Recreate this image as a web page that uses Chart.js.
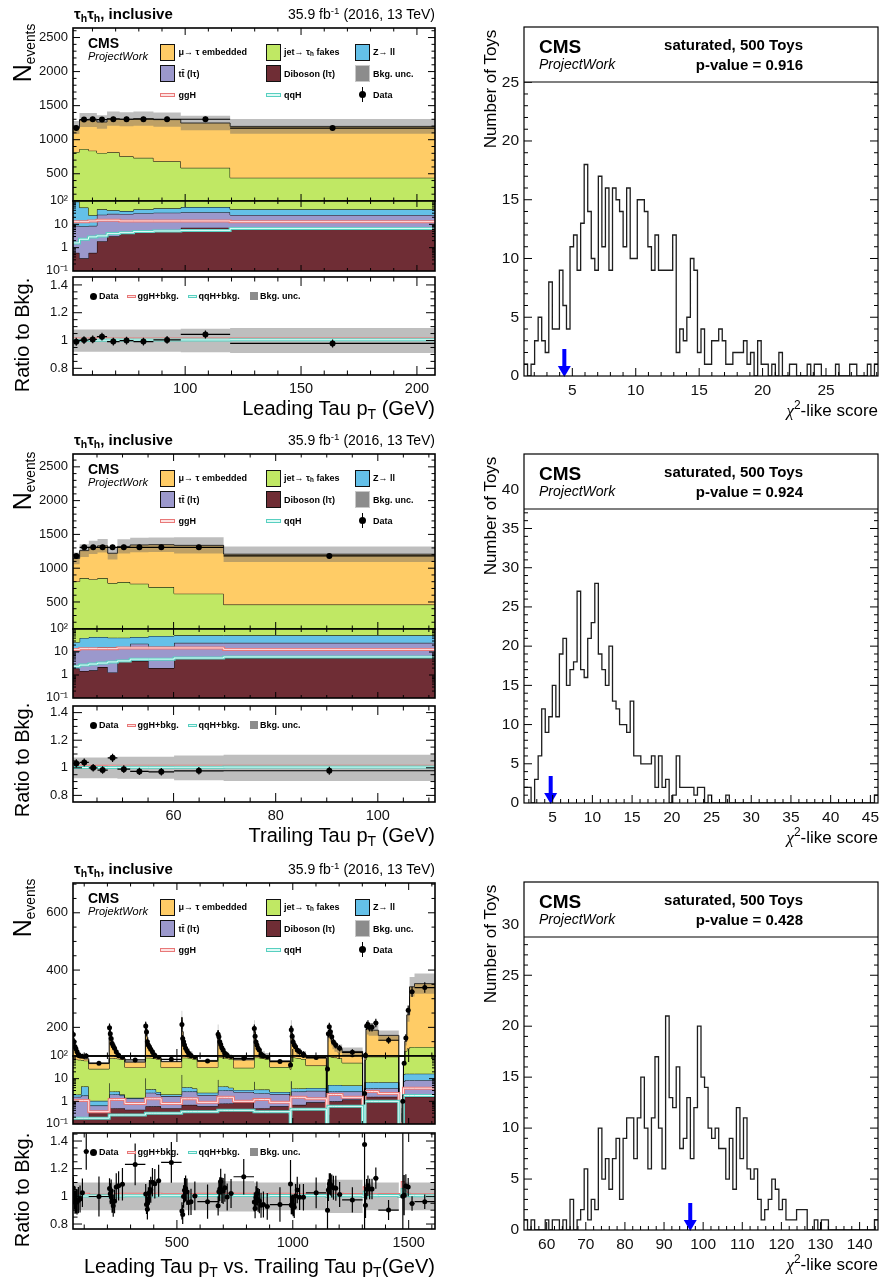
<!DOCTYPE html>
<html>
<head>
<meta charset="utf-8">
<title>tau_h tau_h control distributions and saturated goodness of fit</title>
<script src="https://cdn.jsdelivr.net/npm/chart.js@4.4.1/dist/chart.umd.min.js"></script>
<style>
  html, body { margin: 0; padding: 0; background: #fff; }
  body { position: relative; width: 882px; height: 1282px; overflow: hidden; font-family: "Liberation Sans", Arial, sans-serif; }
  canvas { position: absolute; }
  .t { position: absolute; white-space: nowrap; line-height: 1; color: #000; z-index: 5; }
  .t sub { font-size: 70%; vertical-align: -0.3em; line-height: 0; }
  .t sup { font-size: 70%; vertical-align: 0.55em; line-height: 0; }
  .sym { position: absolute; z-index: 5; box-sizing: border-box; }
</style>
</head>
<body>
<script>
// leading tau pT
const leadEdges = [51.6, 54.4, 58.3, 61.9, 66.3, 71.7, 77.7, 86.3, 98.1, 119.4, 207.8];
const leadData  = [1170, 1295, 1300, 1295, 1300, 1300, 1300, 1300, 1300, 1170];
const leadEmb   = [360, 426, 450, 454, 495, 543, 577, 611, 658, 754];
const leadFakes = [726, 812, 815, 762, 775, 720, 689, 635, 532, 397];
const leadZll   = [85, 44, 16, 18, 12, 9, 14, 17, 22, 19];
const leadTT    = [8, 8, 8, 24, 25, 24, 25, 26, 26, 19];
const leadVV    = [0.6, 0.35, 0.6, 1.9, 3.1, 4.0, 5.2, 5.6, 7.2, 6.2];
const leadGGH   = [13, 13, 14, 15, 15, 14, 14, 14, 14, 13];
const leadQQH   = [1.6, 2.3, 2.9, 3.2, 4.0, 4.4, 4.9, 5.2, 5.5, 6.7];
const leadUnc   = [0.08, 0.08, 0.08, 0.08, 0.08, 0.08, 0.08, 0.08, 0.085, 0.09];

// trailing tau pT
const trailEdges = [40.3, 41.6, 43.4, 45.1, 47.1, 49.0, 51.5, 55.1, 60.1, 69.8, 111.2];
const trailData  = [1181, 1309, 1309, 1309, 1309, 1309, 1309, 1309, 1309, 1181];
const trailEmb   = [341, 407, 471, 478, 441, 528, 574, 628, 715, 746];
const trailFakes = [777, 812, 793, 808, 738, 752, 725, 670, 570, 408];
const trailZll   = [16, 28, 32, 29, 26, 26, 22, 33, 28, 28];
const trailTT    = [8.9, 11.5, 11.4, 13.8, 14.7, 11.6, 18.9, 15, 18.9, 19.5];
const trailVV    = [1.9, 1.5, 1.6, 2.2, 1.3, 4.4, 4.1, 2.0, 6.1, 5.5];
const trailGGH   = [13, 14, 14, 14, 14, 15, 15, 15, 15, 13];
const trailQQH   = [2.4, 2.7, 3.0, 3.3, 3.7, 4.1, 4.9, 4.9, 5.5, 6.1];
const trailUnc   = [0.075, 0.075, 0.075, 0.075, 0.075, 0.08, 0.08, 0.08, 0.09, 0.095];

// leading vs trailing, unrolled: one row per trailing-tau bin, leading-tau bins inside
const unrollStep = 156.2;
const unrollData = [
  175, 150, 132, 125, 115, 105, 100, 98, 100, 48,
  199, 178, 161, 144, 135, 127, 115, 103, 87, 67,
  205, 184, 150, 138, 132, 124, 115, 103, 93, 71,
  210, 161, 150, 138, 127, 118, 110, 102, 93, 60,
  176, 167, 150, 140, 129, 121, 110, 103, 95, 79,
  196, 169, 149, 138, 127, 121, 106, 100, 93, 57,
  40, 192, 169, 149, 138, 132, 121, 115, 106, 85,
  0, 27, 178, 202, 185, 167, 149, 138, 127, 113,
  0, 0, 2.2, 103, 205, 210, 200, 200, 215, 155,
  0, 0, 0, 0, 1, 48, 163, 260, 324, 339
];
const unrollEmb = [
  95, 82, 68, 60, 50, 40, 34, 29, 13, 21,
  108, 95, 75, 70, 65, 52, 30, 20, 10, 23,
  113, 112, 82, 57, 45, 35, 23, 15, 11, 26,
  142, 101, 66, 48, 36, 30, 33, 26, 19, 31,
  100, 75, 56, 40, 37, 32, 21, 23, 19, 39,
  117, 100, 65, 50, 45, 42, 32, 27, 27, 28,
  11, 113, 92, 72, 64, 48, 34, 36, 33, 45,
  0, 9, 75, 90, 77, 65, 53, 45, 45, 66,
  0, 0, 0, 43, 102, 102, 97, 97, 97, 79,
  0, 0, 0, 0, 0.1, 2, 35, 117, 210, 221
];
const unrollFakes = [
  68, 68, 68, 68, 68, 66, 66, 62, 58, 26,
  74, 77, 77, 77, 77, 77, 75, 73, 68, 30,
  78, 80, 80, 80, 80, 80, 78, 76, 70, 29,
  78, 80, 80, 80, 80, 80, 78, 76, 70, 29,
  80, 82, 82, 82, 82, 80, 78, 76, 70, 27,
  80, 82, 82, 82, 82, 80, 78, 76, 70, 30,
  25, 84, 84, 84, 82, 80, 78, 76, 70, 34,
  0, 20, 90, 90, 88, 85, 82, 80, 75, 45,
  0, 0, 0.9, 60, 86, 86, 86, 86, 86, 86,
  0, 0, 0, 0, 0.4, 30, 100, 110, 115, 115
];
const unrollZll = [
  0.4, 0.4, 0.4, 0.4, 0.4, 0.4, 0.4, 2.7, 2.7, 0.4,
  4.3, 0.7, 0.7, 0.7, 0.7, 0.7, 0.7, 0.7, 0.2, 0.1,
  8, 1, 1, 1, 1, 1, 1, 1, 0.5, 0.3,
  12, 1.5, 1.5, 1.5, 1.5, 1.5, 1.5, 1.5, 1, 0.5,
  6, 1.5, 1.5, 1.5, 1.5, 1.5, 1.5, 1.5, 1, 0.6,
  5, 1, 1, 1, 1, 1, 1, 1, 1, 0.5,
  0.2, 5, 1, 1, 1, 1, 1, 1, 1, 1,
  0, 0.5, 2.6, 2.6, 2.6, 2.6, 2.6, 2.6, 2.6, 2.3,
  0, 0, 0.2, 3.2, 3.2, 3.2, 3.2, 3.2, 3.2, 3.2,
  0, 0, 0, 0, 0.2, 8, 8, 8, 8, 8
];
const unrollTT = [
  1.4, 1.4, 1.4, 1.4, 1.4, 1.4, 1.4, 1.6, 1.6, 0.3,
  1.5, 1.5, 1.5, 1.5, 1.5, 1.5, 1.5, 1.5, 1.3, 0.9,
  1.8, 1.8, 1.8, 1.8, 1.8, 1.8, 1.8, 1.8, 1.5, 1.2,
  2, 2, 2, 2, 2, 2, 2, 2, 2, 1.3,
  2.2, 2.2, 2.2, 2.2, 2.2, 2.2, 2.2, 2.2, 2.2, 1.6,
  1.8, 1.8, 1.8, 1.8, 1.8, 1.8, 1.8, 1.8, 1.8, 1.5,
  0.4, 2, 2, 2, 2, 2, 2, 2, 2, 2,
  0, 0.4, 1.7, 1.7, 1.7, 1.7, 1.7, 1.7, 1.7, 1.5,
  0, 0, 0.3, 2.2, 2.2, 2.2, 2.2, 2.2, 2.2, 2.2,
  0, 0, 0, 0, 0.2, 6, 7, 7, 7, 7
];
const unrollVV = [
  0.18, 0.18, 0.18, 0.18, 0.18, 0.18, 0.18, 0.2, 0.2, 0.35,
  0.5, 0.5, 0.5, 0.5, 0.5, 0.5, 0.5, 0.5, 0.5, 0.43,
  0.6, 0.6, 0.6, 0.6, 0.6, 0.6, 0.6, 0.6, 0.6, 0.5,
  0.7, 0.7, 0.7, 0.7, 0.7, 0.7, 0.7, 0.7, 0.7, 0.6,
  0.8, 0.8, 0.8, 0.8, 0.8, 0.8, 0.8, 0.8, 0.8, 1.0,
  0.5, 0.5, 0.5, 0.5, 0.5, 0.5, 0.5, 0.5, 0.5, 0.6,
  0.1, 0.7, 0.7, 0.7, 0.7, 0.7, 0.7, 0.7, 0.7, 0.9,
  0, 0.1, 1.0, 1.0, 1.0, 1.0, 1.0, 1.0, 1.0, 1.2,
  0, 0, 0.2, 1.6, 1.6, 1.6, 1.6, 1.6, 1.6, 1.6,
  0, 0, 0, 0, 0.1, 1.6, 1.6, 1.6, 1.6, 1.6
];
const unrollGGH = [
  1.1, 1.1, 1.1, 1.1, 1.1, 1.1, 1.1, 1.1, 1.1, 0.35,
  1.2, 1.2, 1.2, 1.2, 1.2, 1.2, 1.2, 1.2, 1.2, 0.8,
  1.3, 1.3, 1.3, 1.3, 1.3, 1.3, 1.3, 1.3, 1.3, 0.8,
  1.3, 1.3, 1.3, 1.3, 1.3, 1.3, 1.3, 1.3, 1.3, 0.9,
  1.5, 1.5, 1.5, 1.5, 1.5, 1.5, 1.5, 1.5, 1.5, 1.0,
  1.2, 1.2, 1.2, 1.2, 1.2, 1.2, 1.2, 1.2, 1.2, 0.9,
  0.3, 1.5, 1.5, 1.5, 1.5, 1.5, 1.5, 1.5, 1.5, 1.3,
  0, 0.3, 2, 2, 2, 2, 2, 2, 2, 1.5,
  0, 0, 0.1, 2.7, 2.7, 2.7, 2.7, 2.7, 2.7, 2.2,
  0, 0, 0, 0, 0.1, 3.8, 3.8, 3.8, 3.8, 3.8
];
const unrollQQH = [
  0.18, 0.18, 0.18, 0.18, 0.18, 0.18, 0.18, 0.18, 0.18, 0.18,
  0.25, 0.25, 0.25, 0.25, 0.25, 0.25, 0.25, 0.25, 0.25, 0.25,
  0.3, 0.3, 0.3, 0.3, 0.3, 0.3, 0.3, 0.3, 0.3, 0.3,
  0.35, 0.35, 0.35, 0.35, 0.35, 0.35, 0.35, 0.35, 0.35, 0.35,
  0.4, 0.4, 0.4, 0.4, 0.4, 0.4, 0.4, 0.4, 0.4, 0.4,
  0.35, 0.35, 0.35, 0.35, 0.35, 0.35, 0.35, 0.35, 0.35, 0.35,
  0.1, 0.45, 0.45, 0.45, 0.45, 0.45, 0.45, 0.45, 0.45, 0.45,
  0, 0.1, 0.6, 0.6, 0.6, 0.6, 0.6, 0.6, 0.6, 0.6,
  0, 0, 0.05, 1.0, 1.0, 1.0, 1.0, 1.0, 1.0, 1.0,
  0, 0, 0, 0, 0.05, 1.8, 1.8, 1.8, 1.8, 1.8
];
const unrollUnc = [0.1, 0.1, 0.1, 0.1, 0.11, 0.1, 0.1, 0.12, 0.1, 0.1]; // per trailing bin

// toys (100 bins each)
const toys1 = [1, 0, 1, 3, 5, 3, 2, 8, 4, 4, 9, 6, 4, 11, 12, 9, 13, 18, 14, 10,
  9, 17, 11, 16, 9, 16, 15, 14, 11, 16, 10, 10, 15, 15, 14, 11, 9, 12, 9, 9,
  9, 9, 12, 2, 4, 3, 5, 10, 9, 2, 4, 1, 1, 3, 3, 4, 3, 1, 1, 2,
  2, 2, 3, 1, 2, 0, 3, 1, 1, 0, 1, 0, 2, 0, 0, 1, 1, 0, 0, 0,
  1, 0, 1, 1, 0, 0, 0, 0, 1, 0, 0, 0, 1, 1, 0, 0, 0, 1, 0, 1];
const toys1Range = [1.19, 29.1];
const toys1Obs = 4.37;

const toys2 = [2, 2, 0, 3, 6, 12, 9, 11, 15, 11, 19, 21, 15, 17, 18, 27, 17, 16, 21, 23,
  28, 19, 17, 15, 20, 13, 12, 10, 10, 9, 13, 6, 6, 5, 5, 5, 6, 2, 6, 2,
  3, 0, 1, 6, 2, 2, 2, 2, 1, 2, 2, 0, 1, 0, 0, 0, 0, 1, 0, 0,
  0, 0, 0, 0, 0, 0, 0, 0, 0, 0, 0, 0, 0, 0, 0, 0, 0, 0, 0, 0,
  0, 0, 0, 0, 0, 0, 0, 0, 0, 0, 0, 0, 0, 0, 0, 0, 0, 0, 0, 1];
const toys2Range = [1.39, 45.96];
const toys2Obs = 4.75;

const toys3 = [1, 0, 1, 0, 0, 0, 1, 0, 1, 1, 0, 1, 0, 3, 0, 1, 2, 6, 1, 3,
  2, 10, 5, 7, 4, 7, 9, 3, 9, 11, 11, 7, 11, 15, 10, 6, 11, 17, 10, 6,
  21, 13, 12, 16, 8, 9, 13, 7, 12, 20, 15, 14, 10, 9, 10, 8, 8, 5, 9, 4,
  12, 7, 11, 6, 5, 6, 3, 1, 2, 3, 5, 4, 2, 3, 1, 1, 1, 2, 2, 2,
  0, 0, 1, 0, 1, 1, 0, 0, 0, 0, 0, 0, 0, 0, 0, 0, 0, 0, 0, 1];
const toys3Range = [54.2, 144.7];
const toys3Obs = 96.7;

const COL = { emb: '#ffcc66', fakes: '#c0e864', zll: '#64c0e8', tt: '#9b98cc', vv: '#6f2d35',
  ggH: '#e87878', qqH: '#58cfc0', band: 'rgba(100,100,100,0.42)' };

Chart.defaults.font.family = '"Liberation Sans", Arial, sans-serif';
Chart.defaults.color = '#111';

// frame + inward ticks on all four sides, like ROOT
function tickSet(s, div) {
  const maj = [], min = [];
  if (s.type === 'logarithmic') {
    for (let e = -3; e <= 4; e++) for (let m = 1; m <= 9; m++) {
      const v = m * Math.pow(10, e);
      if (v >= s.min * 0.999 && v <= s.max * 1.001) (m === 1 ? maj : min).push(v);
    }
    return { maj, min };
  }
  s.ticks.forEach(t => maj.push(t.value));
  const st = (maj[1] - maj[0]) / div;
  for (let k = Math.ceil(s.min / st - 1e-6); k * st <= s.max + 1e-9; k++) {
    const v = k * st;
    if (!maj.some(m => Math.abs(m - v) < st * 0.1)) min.push(v);
  }
  return { maj, min };
}
const rootFrame = {
  id: 'rootFrame',
  afterDraw(chart, args, o) {
    if (!o.on) return;
    const { ctx, chartArea: a } = chart;
    const sx = chart.scales.x, sy = chart.scales.y;
    const X = tickSet(sx, o.xDiv), Y = tickSet(sy, o.yDiv);
    ctx.save();
    ctx.strokeStyle = '#000';
    ctx.lineWidth = 1;
    ctx.beginPath();
    const xt = (v, L) => {
      const p = sx.getPixelForValue(v);
      if (p < a.left + 1 || p > a.right - 1) return;
      ctx.moveTo(p, a.bottom); ctx.lineTo(p, a.bottom - L);
      ctx.moveTo(p, a.top); ctx.lineTo(p, a.top + L);
    };
    const yt = (v, L) => {
      const p = sy.getPixelForValue(v);
      if (p < a.top + 1 || p > a.bottom - 1) return;
      ctx.moveTo(a.left, p); ctx.lineTo(a.left + L, p);
      ctx.moveTo(a.right, p); ctx.lineTo(a.right - L, p);
    };
    X.maj.forEach(v => xt(v, o.xLen[0])); X.min.forEach(v => xt(v, o.xLen[1]));
    Y.maj.forEach(v => yt(v, o.yLen[0])); Y.min.forEach(v => yt(v, o.yLen[1]));
    ctx.stroke();
    ctx.lineWidth = o.lw;
    if (o.hdr) {
      ctx.fillStyle = '#fff';
      ctx.fillRect(a.left, a.top, a.right - a.left, o.hdr);
      ctx.beginPath(); ctx.moveTo(a.left, a.top + o.hdr); ctx.lineTo(a.right, a.top + o.hdr); ctx.stroke();
    }
    ctx.strokeRect(a.left, a.top, a.right - a.left, a.bottom - a.top);
    ctx.restore();
  }
};
const errBars = {
  id: 'errBars',
  afterDatasetsDraw(chart) {
    const { ctx, chartArea: a } = chart;
    const sx = chart.scales.x, sy = chart.scales.y;
    const lg = sy.type === 'logarithmic';
    ctx.save();
    ctx.beginPath(); ctx.rect(a.left, a.top, a.right - a.left, a.bottom - a.top); ctx.clip();
    ctx.strokeStyle = '#000'; ctx.lineWidth = 1.2;
    chart.data.datasets.forEach(ds => {
      if (!ds.err) return;
      ctx.beginPath();
      ds.data.forEach((p, i) => {
        if (p.y == null) return;
        const e = ds.err[i];
        const px = sx.getPixelForValue(p.x), py = sy.getPixelForValue(p.y);
        ctx.moveTo(sx.getPixelForValue(e.xl), py); ctx.lineTo(sx.getPixelForValue(e.xh), py);
        ctx.moveTo(px, sy.getPixelForValue(lg ? Math.max(e.yl, 1e-4) : e.yl)); ctx.lineTo(px, sy.getPixelForValue(e.yh));
      });
      ctx.stroke();
    });
    ctx.restore();
  }
};
const obsArrow = {
  id: 'obsArrow',
  afterDatasetsDraw(chart, args, o) {
    if (o.x == null) return;
    const { ctx } = chart;
    const px = chart.scales.x.getPixelForValue(o.x), py = chart.scales.y.getPixelForValue(0);
    ctx.save();
    ctx.fillStyle = '#0000ff';
    ctx.fillRect(px - 2, py - 27, 4, 18);
    ctx.beginPath(); ctx.moveTo(px - 6.5, py - 10); ctx.lineTo(px + 6.5, py - 10); ctx.lineTo(px, py + 1); ctx.closePath(); ctx.fill();
    ctx.restore();
  }
};
Chart.register(rootFrame, errBars, obsArrow);

function steps(edges, vals, floor) {
  const pts = vals.map((v, i) => ({ x: edges[i], y: v == null ? null : Math.max(v, floor) }));
  pts.push({ x: edges[edges.length - 1], y: pts[pts.length - 1].y });
  return pts;
}
function line(data, o) {
  return Object.assign({ type: 'line', data, stepped: true, pointRadius: 0, fill: false,
    borderColor: '#000', borderWidth: 1 }, o);
}
const noLine = { borderWidth: 0, borderColor: 'rgba(0,0,0,0)' };

// major ticks at every multiple of step inside [min, max]
const every = step => s => {
  const t = [];
  for (let k = Math.ceil(s.min / step - 1e-9); k * step <= s.max + 1e-9; k++) t.push({ value: +(k * step).toFixed(6) });
  s.ticks = t;
};
const plain = v => String(+(+v).toFixed(4));

function xScale(min, max, step, labels, size) {
  return { type: 'linear', min, max, afterBuildTicks: every(step),
    ticks: { display: labels, padding: 5, font: { size: size || 14 }, color: '#111', callback: plain },
    grid: { display: false, drawTicks: false }, border: { display: false } };
}
function yLin(min, max, step, size) {
  return { type: 'linear', min, max, afterBuildTicks: every(step),
    ticks: { padding: 5, font: { size: size || 12.5 }, color: '#111', callback: plain },
    grid: { display: false, drawTicks: false }, border: { display: false } };
}
function yLog(min, max) {
  const lab = { 2: '10²', 1: '10', 0: '1', '-1': '10⁻¹' };
  return { type: 'logarithmic', min, max,
    ticks: { autoSkip: false, padding: 5, font: { size: 12.5 }, color: '#111',
      callback: v => { const l = Math.log10(v); return Math.abs(l - Math.round(l)) < 1e-6 ? (lab[Math.round(l)] || '') : ''; } },
    grid: { display: false, drawTicks: false }, border: { display: false } };
}

function makeChart(fr, pad, scales, datasets, plug) {
  const c = document.createElement('canvas');
  const w = fr.w + pad[0] + pad[1], h = fr.h + pad[2] + pad[3];
  c.width = w; c.height = h;
  Object.assign(c.style, { left: (fr.x - pad[0]) + 'px', top: (fr.y - pad[2]) + 'px', width: w + 'px', height: h + 'px' });
  document.body.appendChild(c);
  scales.x.afterFit = s => { s.height = pad[3]; };
  scales.y.afterFit = s => { s.width = pad[0]; };
  datasets.forEach((d, i) => { d.order = 1000 - i; });
  return new Chart(c, {
    type: 'line',
    data: { datasets },
    options: { responsive: false, maintainAspectRatio: false, devicePixelRatio: 1, animation: false, events: [],
      layout: { padding: { left: 0, right: pad[1], top: pad[2], bottom: 0 } },
      scales, plugins: Object.assign({ legend: { display: false }, tooltip: { enabled: false } }, plug) }
  });
}

function leftPanel(P) {
  const n = P.data.length, E = P.edges, FL = 1e-3;
  const procs = [P.vv, P.tt, P.zll, P.fakes, P.emb];
  const cols = [COL.vv, COL.tt, COL.zll, COL.fakes, COL.emb];
  const tot = P.data.map((_, i) => procs.reduce((s, a) => s + a[i], 0));
  const mid = i => (E[i] + E[i + 1]) / 2;

  const stack = () => {
    const sets = [];
    let acc = P.data.map(() => 0);
    procs.forEach((a, k) => {
      acc = acc.map((v, i) => v + a[i]);
      sets.push(line(steps(E, acc, FL), { fill: k === 0 ? 'start' : '-1', backgroundColor: cols[k] }));
    });
    sets.push(line(steps(E, tot.map((v, i) => v * (1 - P.unc[i])), FL), noLine));
    sets.push(line(steps(E, tot.map((v, i) => v * (1 + P.unc[i])), FL), Object.assign({ fill: '-1', backgroundColor: COL.band }, noLine)));
    return sets;
  };
  const dataSet = () => ({ type: 'line', showLine: false, pointRadius: P.r, pointBackgroundColor: '#000', pointBorderWidth: 0,
    data: P.data.map((d, i) => ({ x: mid(i), y: d > 0 ? d : null })),
    err: P.data.map((d, i) => ({ xl: E[i], xh: E[i + 1], yl: d - Math.sqrt(d), yh: d + Math.sqrt(d) })) });
  const sig = (vals, floor) => [
    line(steps(E, vals[0], floor), { borderColor: COL.ggH, borderWidth: 3 }),
    line(steps(E, vals[0], floor), { borderColor: '#ffe6e6', borderWidth: 1 }),
    line(steps(E, vals[1], floor), { borderColor: COL.qqH, borderWidth: 3 }),
    line(steps(E, vals[1], floor), { borderColor: '#e6fffb', borderWidth: 1 })
  ];
  const frame = (y, h) => ({ x: 73, y, w: 362, h });
  const tk = (yd, len) => ({ rootFrame: { on: true, xDiv: P.xDiv, yDiv: yd, xLen: len, yLen: len, lw: 1.6 } });
  const F = P.frames;

  makeChart(frame(F[0], F[1]), [55, 20, 15, 15],
    { x: xScale(E[0], E[n], P.xStep, false), y: yLin(100, P.linMax, P.linStep, 13) },
    stack().concat([dataSet()]), tk(P.linDiv, [7, 3.5]));

  makeChart(frame(F[2], F[3]), [55, 20, 15, 15],
    { x: xScale(E[0], E[n], P.xStep, false), y: yLog(0.1, 100) },
    stack().concat(sig([P.ggH, P.qqH], FL), [dataSet()]), tk(0, [6, 3]));

  const u = P.unc.map((v, i) => tot[i] > 0 ? v : 0);
  const rs = (s) => tot.map((t, i) => t > 0 ? (t + s[i]) / t : 1);
  const ratio = {
    type: 'line', showLine: false, pointRadius: P.r, pointBackgroundColor: '#000', pointBorderWidth: 0,
    data: P.data.map((d, i) => ({ x: mid(i), y: d > 0 && tot[i] > 0 ? d / tot[i] : null })),
    err: P.data.map((d, i) => {
      const t = tot[i] > 0 ? tot[i] : 1, r = d / t, e = Math.sqrt(d) / t;
      return { xl: E[i], xh: E[i + 1], yl: r - e, yh: r + e };
    })
  };
  makeChart(frame(F[4], F[5]), [55, 20, 15, 25],
    { x: xScale(E[0], E[n], P.xStep, true, 14.5), y: yLin(P.rRange[0], P.rRange[1], 0.2, 13) },
    [line(steps(E, u.map(v => 1 - v), -Infinity), noLine),
     line(steps(E, u.map(v => 1 + v), -Infinity), Object.assign({ fill: '-1', backgroundColor: COL.band }, noLine))]
      .concat(sig([rs(P.ggH), rs(P.qqH)], -Infinity), [ratio]),
    tk(4, [9, 4.5]));
}

function toyPanel(R) {
  const n = R.counts.length, w = (R.range[1] - R.range[0]) / n;
  const edges = R.counts.map((_, i) => R.range[0] + i * w).concat([R.range[1]]);
  makeChart({ x: 524, y: R.top, w: 354, h: R.h }, [55, 20, 15, 25],
    { x: xScale(R.range[0], R.range[1], R.xStep, true, 15.5), y: yLin(0, R.yMax, 5, 15.5) },
    [line(steps(edges, R.counts, -Infinity), { borderColor: '#1e1e1e', borderWidth: 1.3 })],
    { rootFrame: { on: true, xDiv: 5, yDiv: 5, xLen: [8, 4], yLen: [8, 4], lw: 1.2, hdr: 55 }, obsArrow: { x: R.obs } });
}

// ---------- text helpers ----------
function T(html, x, y, size, o) {
  o = o || {};
  const d = document.createElement('div');
  d.className = 't';
  d.innerHTML = html;
  d.style.left = x + 'px'; d.style.top = y + 'px'; d.style.fontSize = size + 'px';
  if (o.b) d.style.fontWeight = 'bold';
  if (o.i) d.style.fontStyle = 'italic';
  const tx = o.a === 'r' ? '-100%' : o.a === 'c' ? '-50%' : '0';
  d.style.transform = o.rot ? 'translate(-50%,-50%) rotate(-90deg)' : 'translate(' + tx + ',-50%)';
  document.body.appendChild(d);
}
function S(x, y, w, h, css) {
  const d = document.createElement('div');
  d.className = 'sym';
  Object.assign(d.style, { left: x + 'px', top: y + 'px', width: w + 'px', height: h + 'px' }, css);
  document.body.appendChild(d);
}
function leftLegend(top, rtop, lab) {
  T('CMS', 88, top + 15, 14, { b: 1 });
  T(lab, 88, top + 28, 11, { i: 1 });
  const r = [top + 24, top + 45.5, top + 66.5];
  const box = (x, y, c, bd) => S(x, y - 8.5, 15, 17, { background: c, border: '1.5px solid ' + (bd || '#111') });
  const L = (s, x, y) => T(s, x, y, 9, { b: 1 });
  box(160, r[0], COL.emb); L('μ→ τ embedded', 178.5, r[0]);
  box(265.5, r[0], COL.fakes); L('jet→ τ<sub>h</sub> fakes', 284, r[0]);
  box(355, r[0], COL.zll); L('Z→ ll', 373, r[0]);
  box(160, r[1], COL.tt); L('tt̄ (lτ)', 178.5, r[1]);
  box(265.5, r[1], COL.vv); L('Diboson (lτ)', 284, r[1]);
  box(355, r[1], '#8c8c8c', '#c8c8c8'); L('Bkg. unc.', 373, r[1]);
  S(160, r[2] - 2, 15, 4, { background: '#fde3e3', border: '1px solid ' + COL.ggH }); L('ggH', 178.5, r[2]);
  S(265.5, r[2] - 2, 15, 4, { background: '#e0faf6', border: '1px solid ' + COL.qqH }); L('qqH', 284, r[2]);
  S(359, r[2] - 3.5, 7, 7, { background: '#000', borderRadius: '50%' });
  S(361.9, r[2] - 7.5, 1.2, 15, { background: '#000' }); L('Data', 373, r[2]);
  const q = rtop + 19;
  S(90, q - 3.5, 7, 7, { background: '#000', borderRadius: '50%' }); L('Data', 99, q);
  S(126.5, q - 1.5, 9, 3, { background: '#fde3e3', border: '1px solid ' + COL.ggH }); L('ggH+bkg.', 137.5, q);
  S(188, q - 1.5, 9, 3, { background: '#e0faf6', border: '1px solid ' + COL.qqH }); L('qqH+bkg.', 198.5, q);
  S(250, q - 4, 8, 8, { background: '#8c8c8c' }); L('Bkg. unc.', 260, q);
}
function leftTitles(top, xTitleY, xTitle, nY, rY) {
  T('τ<sub>h</sub>τ<sub>h</sub>, inclusive', 74, top - 15, 15, { b: 1 });
  T('35.9 fb<sup>-1</sup> (2016, 13 TeV)', 435, top - 14, 14, { a: 'r' });
  T(xTitle, 435, xTitleY, 20, { a: 'r' });
  T('N<sub style="font-size:55%">events</sub>', 22, nY, 25, { rot: 1 });
  T('Ratio to Bkg.', 22, rY, 20, { rot: 1 });
}
function rightTexts(top, bottom, pv) {
  T('CMS', 539, top + 19, 19, { b: 1 });
  T('ProjectWork', 539, top + 37, 14, { i: 1 });
  T('saturated, 500 Toys', 803, top + 17, 15, { b: 1, a: 'r' });
  T('p-value = ' + pv, 803, top + 37, 15, { b: 1, a: 'r' });
  T('Number of Toys', 490, top + 62, 17, { rot: 1 });
  T('<span style="font-family:\'Liberation Serif\',serif;font-style:italic">χ</span><sup>2</sup>-like score', 878, bottom + 34, 17, { a: 'r' });
}

// ---------- build ----------
const unrollEdges = [];
for (let k = 0; k < 10; k++) for (let i = 0; i < 10; i++) unrollEdges.push(leadEdges[i] + k * unrollStep);
unrollEdges.push(leadEdges[10] + 9 * unrollStep);

leftPanel({ frames: [28, 173, 201, 70, 277, 98], edges: leadEdges, data: leadData, emb: leadEmb, fakes: leadFakes,
  zll: leadZll, tt: leadTT, vv: leadVV, ggH: leadGGH, qqH: leadQQH, unc: leadUnc,
  xStep: 50, xDiv: 5, linMax: 2640, linStep: 500, linDiv: 5, rRange: [0.752, 1.457], r: 3 });
leftPanel({ frames: [454, 175, 629, 69, 706, 96], edges: trailEdges, data: trailData, emb: trailEmb, fakes: trailFakes,
  zll: trailZll, tt: trailTT, vv: trailVV, ggH: trailGGH, qqH: trailQQH, unc: trailUnc,
  xStep: 20, xDiv: 4, linMax: 2690, linStep: 500, linDiv: 5, rRange: [0.752, 1.448], r: 3 });
leftPanel({ frames: [883, 173, 1056, 68, 1133, 96], edges: unrollEdges, data: unrollData, emb: unrollEmb, fakes: unrollFakes,
  zll: unrollZll, tt: unrollTT, vv: unrollVV, ggH: unrollGGH, qqH: unrollQQH,
  unc: unrollData.map((_, i) => unrollUnc[Math.floor(i / 10)]),
  xStep: 500, xDiv: 5, linMax: 704, linStep: 200, linDiv: 4, rRange: [0.764, 1.458], r: 2.5 });

toyPanel({ counts: toys1, range: toys1Range, obs: toys1Obs, top: 27, h: 349, yMax: 29.7, xStep: 5 });
toyPanel({ counts: toys2, range: toys2Range, obs: toys2Obs, top: 454, h: 349, yMax: 44.5, xStep: 5 });
toyPanel({ counts: toys3, range: toys3Range, obs: toys3Obs, top: 882, h: 348, yMax: 34.15, xStep: 10 });

leftLegend(28, 277, 'ProjectWork');
leftLegend(454, 706, 'ProjectWork');
leftLegend(883, 1133, 'ProjektWork');
leftTitles(28, 408, 'Leading Tau p<sub>T</sub> (GeV)', 53, 335);
leftTitles(454, 835, 'Trailing Tau p<sub>T</sub> (GeV)', 481, 760);
leftTitles(883, 1266, 'Leading Tau p<sub>T</sub> vs. Trailing Tau p<sub>T</sub>(GeV)', 908, 1190);
rightTexts(27, 376, '0.916');
rightTexts(454, 803, '0.924');
rightTexts(882, 1230, '0.428');
</script>
</body>
</html>
